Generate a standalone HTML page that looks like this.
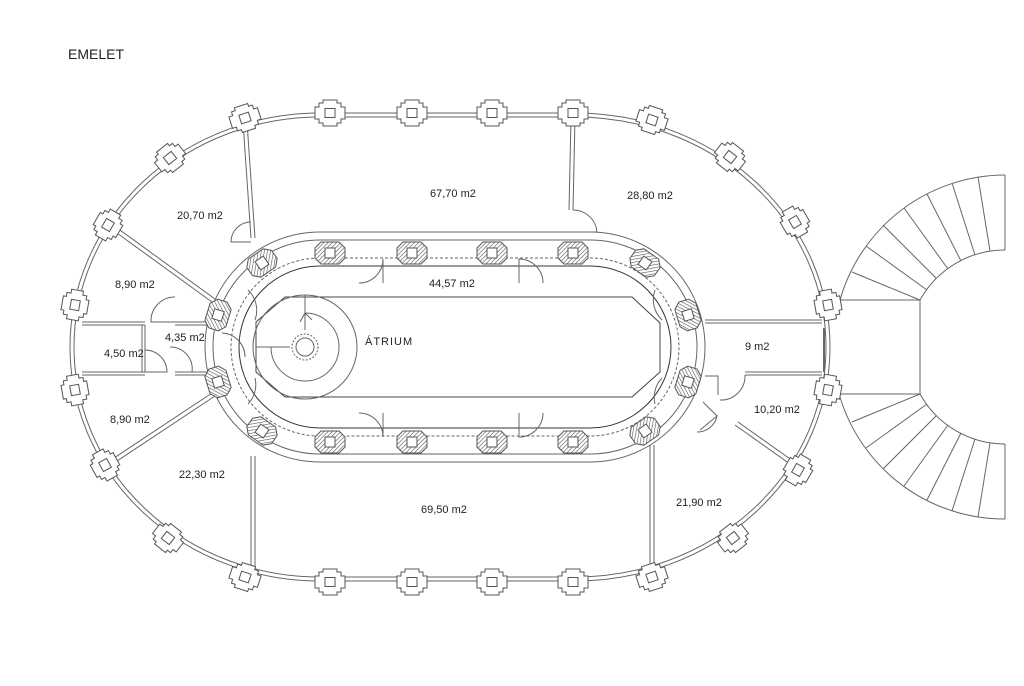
<!DOCTYPE html>
<html><head><meta charset="utf-8"><style>
html,body{margin:0;padding:0;background:#fff;}
svg{display:block}
text{font-family:"Liberation Sans",sans-serif;fill:#222;}
</style></head><body>
<svg width="1024" height="686" viewBox="0 0 1024 686" xmlns="http://www.w3.org/2000/svg">
<defs>
<pattern id="h" width="3" height="3" patternUnits="userSpaceOnUse" patternTransform="rotate(45)">
<rect width="3" height="3" fill="#fff"/><line x1="0" y1="0" x2="0" y2="3" stroke="#555" stroke-width="1.2"/></pattern>
<g id="p"><path d="M-15,-6 h4 v-4 h4 v-3 h14 v3 h4 v4 h4 v12 h-4 v4 h-4 v3 h-14 v-3 h-4 v-4 h-4 z" fill="#fff" stroke="#555" stroke-width="1"/><rect x="-5" y="-4.5" width="10" height="9" fill="none" stroke="#555"/></g>
<g id="q"><path d="M-15,-5 L-9,-11 H9 L15,-5 V5 L9,11 H-9 L-15,5 Z" fill="url(#h)" stroke="#555"/><rect x="-5" y="-5" width="10" height="10" fill="#fff" stroke="#555"/></g>
</defs>
<text x="68" y="59" font-size="14">EMELET</text>
<g fill="none" stroke="#666" stroke-width="1">
<path d="M320,113 H575 A255,234 0 0 1 575,581 H320 A250,234 0 0 1 320,113 Z"/>
<path d="M320,117 H575 A251,230 0 0 1 575,577 H320 A246,230 0 0 1 320,117 Z"/>
<path d="M320,232 H590 A115,115 0 0 1 590,462 H320 A115,115 0 0 1 320,232 Z"/>
<path d="M320,240 H590 A107,107 0 0 1 590,454 H320 A107,107 0 0 1 320,240 Z"/>
<path d="M320,258 H590 A89,89 0 0 1 590,436 H320 A89,89 0 0 1 320,258 Z" stroke-dasharray="3,2"/>
<path d="M320,266 H590 A81,81 0 0 1 590,428 H320 A81,81 0 0 1 320,266 Z" stroke="#333"/>
<path d="M285,297 H632 L660,323 V372 L632,397 H285 L256,372 V322 Z" stroke="#444"/>
<circle cx="305" cy="347" r="52"/>
<path d="M305,295 V330 M256,347 H290"/>
<path d="M305,313 A34,34 0 1 1 271,347"/>
<circle cx="305" cy="347" r="13" stroke-dasharray="2,1.5"/>
<circle cx="305" cy="347" r="9"/>
<path d="M300,322 L305,313 L312,320"/>
<path d="M243,122 L251,238 M247,122 L255,238"/>
<path d="M571,118 L569,210 M575,118 L573,210"/>
<path d="M110,228 L212,302 M113,225 L215,299"/>
<path d="M82,322 H145 M82,325 H145 M175,322 H210 M175,325 H210"/>
<path d="M82,372 H145 M82,375 H145 M175,372 H210 M175,375 H210"/>
<path d="M142,325 V372 M145,325 V372"/>
<path d="M108,462 L212,393 M111,465 L215,396"/>
<path d="M251,456 V576 M255,456 V576"/>
<path d="M650,445 V576 M654,445 V576"/>
<path d="M705,320 H822 M705,323 H822"/>
<path d="M745,372 H822 M745,375 H822 M705,376 H718 V395"/>
<path d="M738,422 L800,466 M735,425 L797,469 M703,402 L717,416"/>
<path d="M824,328 V372" stroke-width="2"/>
<path d="M251,222 A20,20 0 0 0 231,242 H251"/>
<path d="M573,210 A24,24 0 0 1 597,232 H573"/>
<path d="M175,297 A24,24 0 0 0 151,322 H175"/>
<path d="M145,350 A22,22 0 0 1 167,372 H145"/>
<path d="M170,347 A22,22 0 0 1 192,372"/>
<path d="M745,375 A24,24 0 0 1 720,400"/>
<path d="M697,432 A20,20 0 0 0 717,416 L700,430"/>
<path d="M359,283 A24,24 0 0 0 383,259 V283"/>
<path d="M359,413 A24,24 0 0 1 383,437 V413"/>
<path d="M519,283 V259 A24,24 0 0 1 543,283"/>
<path d="M519,413 V437 A24,24 0 0 0 543,413"/>
<path d="M248,290 A28,28 0 0 1 255,320"/>
<path d="M222,333 A24,24 0 0 1 245,357"/>
<path d="M248,404 A28,28 0 0 0 255,378"/>
<path d="M655,290 A28,28 0 0 0 662,320"/>
<path d="M655,404 A28,28 0 0 1 662,378"/>
<!-- stairs -->
<path d="M1005,175 A172,172 0 0 0 840,300 M840,397 A172,172 0 0 0 1005,519"/>
<path d="M1005,250 A97,97 0 0 0 920,300 M920,394 A97,97 0 0 0 1005,444"/>
<path d="M1005,175 V250 M1005,444 V519 M840,300 H920 V394 H840"/>
<path d="M978,177 L990,251 M952,183 L975,255 M927,194 L961,261 M904,208 L948,269 M883,225 L936,278 M866,246 L927,290 M852,272 L920,300"/>
<path d="M978,517 L990,443 M952,511 L975,439 M927,500 L961,433 M904,486 L948,425 M883,469 L936,416 M866,448 L927,404 M852,422 L920,394"/>
</g>
<use href="#p" transform="translate(245,118) rotate(-18)"/>
<use href="#p" transform="translate(330,113)"/>
<use href="#p" transform="translate(412,113)"/>
<use href="#p" transform="translate(492,113)"/>
<use href="#p" transform="translate(573,113)"/>
<use href="#p" transform="translate(652,120) rotate(18)"/>
<use href="#p" transform="translate(730,157) rotate(38)"/>
<use href="#p" transform="translate(795,222) rotate(60)"/>
<use href="#p" transform="translate(828,305) rotate(80)"/>
<use href="#p" transform="translate(828,390) rotate(-80)"/>
<use href="#p" transform="translate(798,470) rotate(-60)"/>
<use href="#p" transform="translate(733,538) rotate(-38)"/>
<use href="#p" transform="translate(652,577) rotate(-18)"/>
<use href="#p" transform="translate(573,582)"/>
<use href="#p" transform="translate(492,582)"/>
<use href="#p" transform="translate(412,582)"/>
<use href="#p" transform="translate(330,582)"/>
<use href="#p" transform="translate(245,577) rotate(18)"/>
<use href="#p" transform="translate(168,538) rotate(38)"/>
<use href="#p" transform="translate(105,465) rotate(61)"/>
<use href="#p" transform="translate(75,390) rotate(80)"/>
<use href="#p" transform="translate(75,305) rotate(-80)"/>
<use href="#p" transform="translate(108,225) rotate(-60)"/>
<use href="#p" transform="translate(170,158) rotate(-38)"/>
<use href="#q" transform="translate(262,263) rotate(-35)"/>
<use href="#q" transform="translate(330,253)"/>
<use href="#q" transform="translate(412,253)"/>
<use href="#q" transform="translate(492,253)"/>
<use href="#q" transform="translate(573,253)"/>
<use href="#q" transform="translate(645,263) rotate(35)"/>
<use href="#q" transform="translate(688,315) rotate(73)"/>
<use href="#q" transform="translate(688,382) rotate(-73)"/>
<use href="#q" transform="translate(645,431) rotate(-35)"/>
<use href="#q" transform="translate(573,442)"/>
<use href="#q" transform="translate(492,442)"/>
<use href="#q" transform="translate(412,442)"/>
<use href="#q" transform="translate(330,442)"/>
<use href="#q" transform="translate(262,431) rotate(35)"/>
<use href="#q" transform="translate(218,382) rotate(73)"/>
<use href="#q" transform="translate(218,315) rotate(-73)"/>
<g font-size="11">
<text x="430" y="197">67,70 m2</text>
<text x="627" y="199">28,80 m2</text>
<text x="177" y="219">20,70 m2</text>
<text x="115" y="288">8,90 m2</text>
<text x="429" y="287">44,57 m2</text>
<text x="165" y="341">4,35 m2</text>
<text x="104" y="357">4,50 m2</text>
<text x="365" y="345" letter-spacing="1">ÁTRIUM</text>
<text x="745" y="350">9 m2</text>
<text x="754" y="413">10,20 m2</text>
<text x="110" y="423">8,90 m2</text>
<text x="179" y="478">22,30 m2</text>
<text x="421" y="513">69,50 m2</text>
<text x="676" y="506">21,90 m2</text>
</g>
</svg>
</body></html>
